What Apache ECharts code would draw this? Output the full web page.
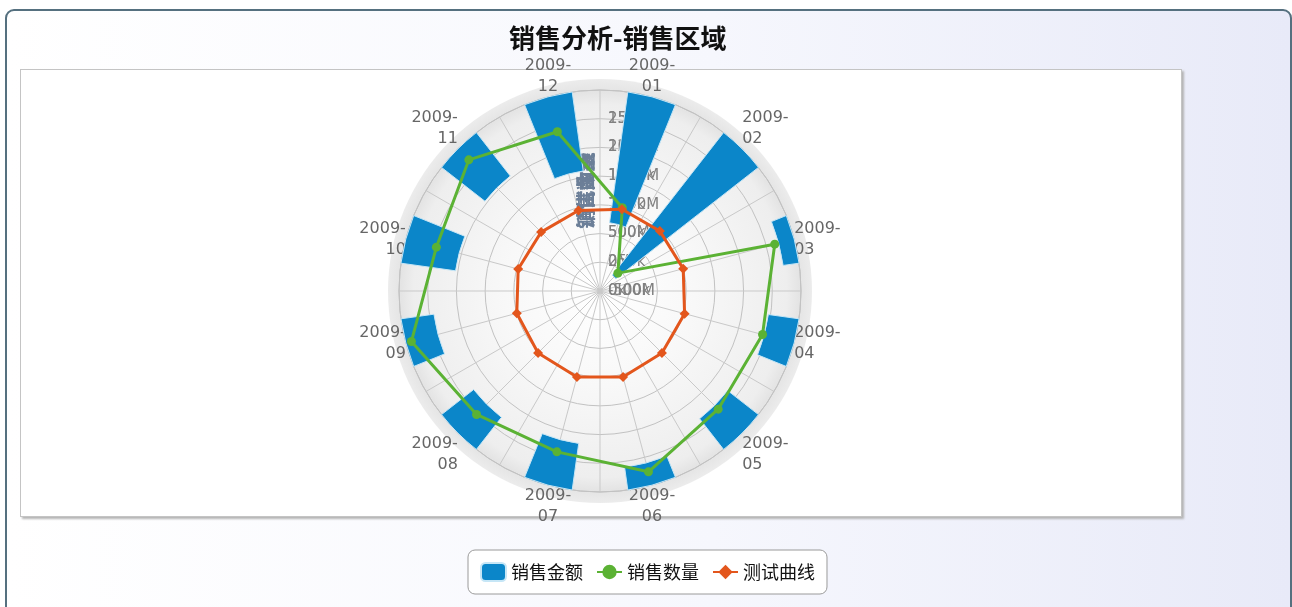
<!DOCTYPE html>
<html><head><meta charset="utf-8">
<script src="https://cdn.jsdelivr.net/npm/echarts@6/dist/echarts.min.js"></script>
<style>
html,body{margin:0;padding:0;width:1292px;height:607px;overflow:hidden;background:#fff;}
#panel{position:absolute;left:5px;top:9px;width:1283px;height:620px;border:2px solid #55707f;border-radius:9px;background:linear-gradient(to right,#ffffff 0%,#f6f7fd 55%,#e8eaf8 100%);}
#plot{position:absolute;left:20px;top:69px;width:1160px;height:446px;background:#fff;border:1px solid #c4c4c4;box-shadow:2px 2px 2px #b5b5b5;}
#chart{position:absolute;left:0;top:0;width:1292px;height:607px;}
</style></head>
<body><div id="panel"></div><div id="plot"></div><div id="chart"></div>
<script>
// ---- data ----
const categories = ['2009-01','2009-02','2009-03','2009-04','2009-05','2009-06','2009-07','2009-08','2009-09','2009-10','2009-11','2009-12'];
const amountFrom = [700, -150, 2720, 2460, 2320, 2600, 2180, 2290, 2420, 2040, 2040, 1610];
const amountTo   = [3000, 3000, 3000, 3000, 3000, 3000, 3000, 3000, 3000, 3000, 3000, 3000];
const salesQty   = [750, 220, 1575, 1465, 1455, 1630, 1450, 1520, 1700, 1475, 1615, 1435];
const testCurve  = [0.59, 0.59, 0.60, 0.61, 0.61, 0.62, 0.62, 0.61, 0.60, 0.59, 0.58, 0.58];
const amountAxis = [-500, 3000, 500];   // min, max, interval (M)
const qtyAxis    = [0, 1750, 250];      // min, max, interval (k)
const testAxis   = [0, 1.4, 0.2];       // min, max, interval (k)
const seriesNames = ['销售金额', '销售数量', '测试曲线'];

const CENTER = [600, 291], R = 201;
const BLUE = '#0b86c9', GREEN = '#5bb234', ORANGE = '#e3561c';
const barRatio = 0.47;
const labelFont = 'DejaVu Sans';

function closure(arr){ return arr.map((v,i)=> (i===0 || i===arr.length-1) ? v : '-'); }

const hiddenAngle = (idx)=>({polarIndex: idx, type:'category', data: categories, startAngle: 90, boundaryGap: true,
  axisLine:{show:false}, axisTick:{show:false}, axisLabel:{show:false}, splitLine:{show:false}});

const radiusLabel = {color:'#808080', fontSize:15, fontFamily: labelFont, padding:[0,0,10,0], margin:-8, align:'left'};

// overlapping radial-axis titles (left of the radius axis)
const axisTitles = seriesNames.map(n => ({
  type:'text', x: CENTER[0] - 14, y: CENTER[1] - R / 2, rotation: Math.PI / 2, z: 1,
  style:{text: n, fill:'#6c7f98', font:'bold 19px "Noto Sans CJK SC"', textAlign:'center', textVerticalAlign:'middle'}
}));

const chart = echarts.init(document.getElementById('chart'), null, {renderer:'canvas'});
chart.setOption({
  backgroundColor: 'transparent',
  animation: false,
  title: {text:'销售分析-销售区域', left: 504, top: 20,
    textStyle:{fontSize:26, fontWeight:'bold', color:'#111', fontFamily:'Noto Sans CJK SC'}},
  legend: {
    data: [{name:seriesNames[0], icon:'roundRect'}, {name:seriesNames[1]}, {name:seriesNames[2]}],
    left: 468, top: 550, itemWidth: 25, itemHeight: 18, itemGap: 13,
    padding: [12, 12], borderColor:'#9a9a9a', borderWidth:1, borderRadius:7, backgroundColor:'#fff',
    textStyle:{fontSize:18, color:'#111', fontFamily:'Noto Sans CJK SC'}
  },
  graphic: axisTitles,
  polar: [
    {center: CENTER, radius: 212},   // 0 background disc
    {center: CENTER, radius: R},     // 1 radial grid lines
    {center: CENTER, radius: R},     // 2 amount
    {center: CENTER, radius: R},     // 3 qty
    {center: CENTER, radius: R}      // 4 test
  ],
  angleAxis: [
    {polarIndex:0, type:'value', min:0, max:360, startAngle:90, axisLine:{show:false}, axisTick:{show:false}, axisLabel:{show:false}, splitLine:{show:false}},
    {polarIndex:1, type:'value', min:0, max:360, interval:15, startAngle:90, axisLine:{show:false}, axisTick:{show:false}, axisLabel:{show:false},
      splitLine:{show:true, lineStyle:{color:'#c9c9c9', width:1}}},
    {polarIndex:2, type:'category', data: categories, startAngle:90, boundaryGap:true,
      axisLine:{show:true, lineStyle:{color:'#c2c2c2', width:1}}, axisTick:{show:false},
      axisLabel:{show:true, color:'#666', fontSize:16, fontFamily: labelFont, lineHeight:21, margin:0,
        formatter: v => v.replace('-', '-\n')},
      splitLine:{show:false}},
    hiddenAngle(3), hiddenAngle(4)
  ],
  radiusAxis: [
    {polarIndex:0, type:'value', min:0, max:1, interval:1, axisLine:{show:false}, axisTick:{show:false}, axisLabel:{show:false}, splitLine:{show:false},
      splitArea:{show:true, areaStyle:{color:[{type:'radial', x:0.5, y:0.5, r:0.5, colorStops:[
        {offset:0, color:'#ffffff'}, {offset:0.45, color:'#f8f8f8'}, {offset:0.88, color:'#eeeeee'},
        {offset:0.94, color:'#e4e4e4'}, {offset:1, color:'#ececec'}]}]}}},
    {polarIndex:1, type:'value', min:0, max:1, axisLine:{show:false}, axisTick:{show:false}, axisLabel:{show:false}, splitLine:{show:false}},
    {polarIndex:2, type:'value', min:amountAxis[0], max:amountAxis[1], interval:amountAxis[2],
      axisLine:{show:false}, axisTick:{show:false},
      axisLabel:Object.assign({showMaxLabel:false, formatter: v => v + 'M'}, radiusLabel),
      splitLine:{show:true, lineStyle:{color:'#c2c2c2', width:1}}},
    {polarIndex:3, type:'value', min:qtyAxis[0], max:qtyAxis[1], interval:qtyAxis[2],
      axisLine:{show:false}, axisTick:{show:false},
      axisLabel:Object.assign({showMaxLabel:false, formatter: v => v + 'k'}, radiusLabel),
      splitLine:{show:false}},
    {polarIndex:4, type:'value', min:testAxis[0], max:testAxis[1], interval:testAxis[2],
      axisLine:{show:false}, axisTick:{show:false},
      axisLabel:Object.assign({showMaxLabel:false, formatter: v => v === 0 ? v.toFixed(2) + 'k' : ''}, radiusLabel),
      splitLine:{show:false}}
  ],
  series: [
    {
      name: seriesNames[0], type:'custom', coordinateSystem:'polar', polarIndex:2,
      itemStyle:{color: BLUE, borderColor:'#c6e6f6', borderWidth:1},
      encode:{angle:0, radius:[1,2]},
      data: categories.map((c,i)=>[i, amountFrom[i], amountTo[i]]),
      renderItem: function(params, api){
        const cs = params.coordSys;
        const cat = api.value(0);
        const p1 = api.coord([api.value(1), cat]);
        const p2 = api.coord([api.value(2), cat]);
        const r0 = Math.hypot(p1[0]-cs.cx, p1[1]-cs.cy);
        const r1 = Math.hypot(p2[0]-cs.cx, p2[1]-cs.cy);
        const a = Math.atan2(p2[1]-cs.cy, p2[0]-cs.cx);
        const h = barRatio * Math.PI / categories.length;
        return {type:'sector', shape:{cx:cs.cx, cy:cs.cy, r0:r0, r:r1, startAngle:a-h, endAngle:a+h, clockwise:true},
          style: api.style()};
      }
    },
    {name: seriesNames[1], type:'line', coordinateSystem:'polar', polarIndex:3, data: salesQty,
      symbol:'circle', symbolSize:9, lineStyle:{color:GREEN, width:3}, itemStyle:{color:GREEN}, z:3},
    {name: seriesNames[1] + '_c', type:'line', coordinateSystem:'polar', polarIndex:3, data: closure(salesQty), connectNulls:true,
      showSymbol:false, symbol:'none', lineStyle:{color:GREEN, width:3}, itemStyle:{color:GREEN}, z:3},
    {name: seriesNames[2], type:'line', coordinateSystem:'polar', polarIndex:4, data: testCurve,
      symbol:'diamond', symbolSize:10, lineStyle:{color:ORANGE, width:3}, itemStyle:{color:ORANGE}, z:3},
    {name: seriesNames[2] + '_c', type:'line', coordinateSystem:'polar', polarIndex:4, data: closure(testCurve), connectNulls:true,
      showSymbol:false, symbol:'none', lineStyle:{color:ORANGE, width:3}, itemStyle:{color:ORANGE}, z:3}
  ]
});
</script>
</body></html>
